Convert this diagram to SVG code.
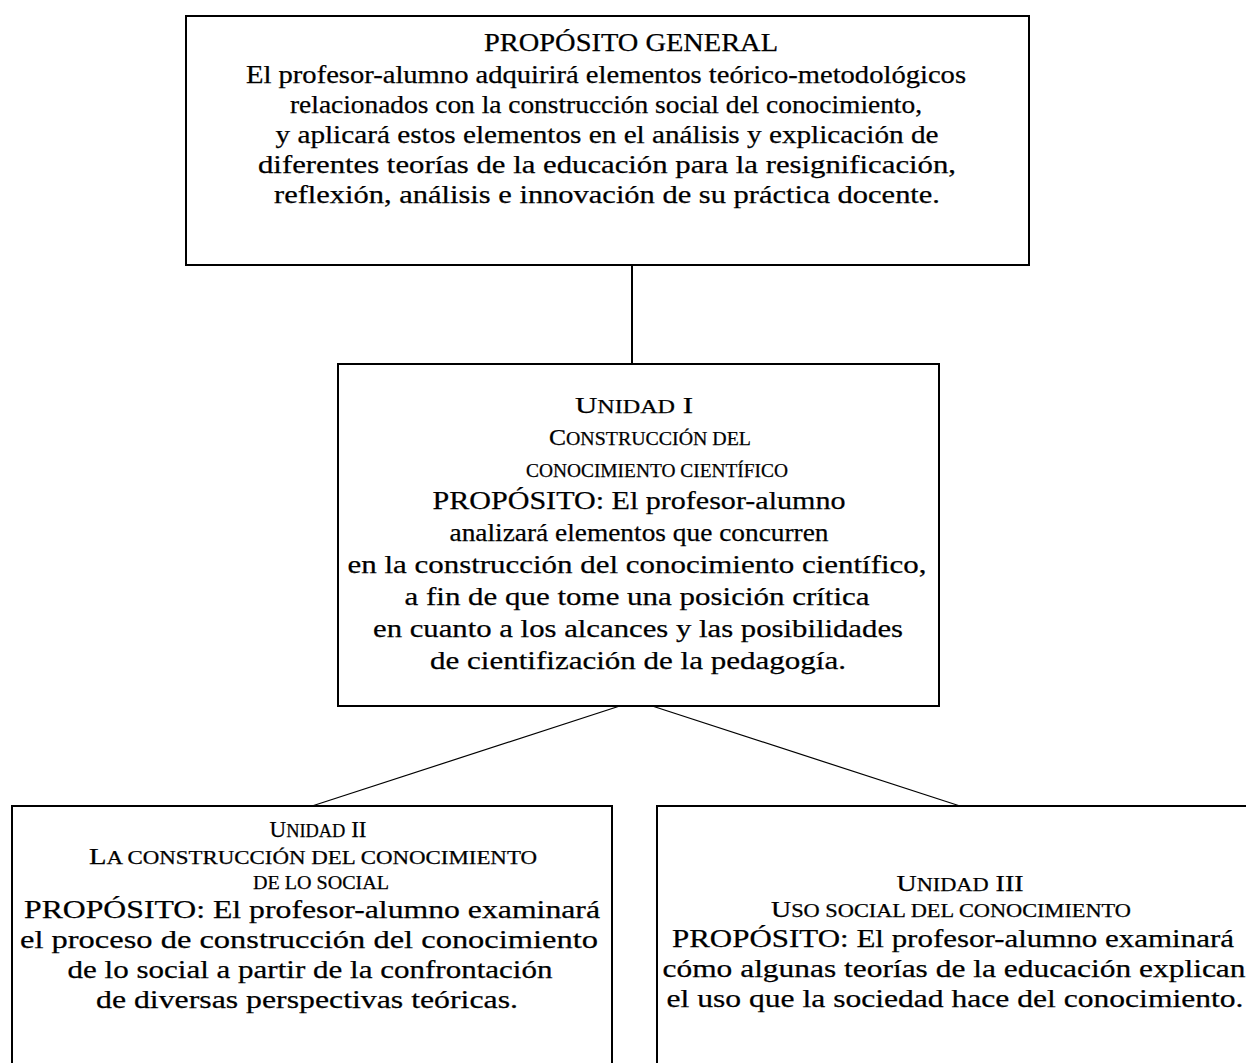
<svg xmlns="http://www.w3.org/2000/svg" width="1246" height="1063" viewBox="0 0 1246 1063">
  <style>
    .box { fill: #ffffff; stroke: #000000; stroke-width: 2; }
    .link { stroke: #000000; fill: none; }
    text { font-family: "Liberation Serif", "DejaVu Serif", serif; fill: #000000; stroke: #000000; stroke-width: 0.25; text-anchor: middle; }
    .t1 { font-size: 25px; }
    .t2 { font-size: 26px; }
    .t3 { font-size: 26px; }
    .cap { font-size: 24px; }
    .cap3 { font-size: 23px; }
    .sc { font-size: 0.78em; }
    .sc3 { font-size: 0.8em; }
  </style>
  <rect width="1246" height="1063" fill="#ffffff"/>

  <!-- connectors -->
  <g id="connectors">
    <line class="link" x1="632" y1="265" x2="632" y2="364" stroke-width="2"/>
    <line class="link" x1="629" y1="703" x2="312" y2="806" stroke-width="1.2"/>
    <line class="link" x1="643" y1="703" x2="960" y2="806" stroke-width="1.2"/>
  </g>

  <!-- general purpose -->
  <g id="proposito-general">
    <rect class="box" x="186" y="16" width="843" height="249"/>
    <g class="t1">
      <text x="631" y="51" textLength="294" lengthAdjust="spacingAndGlyphs">PROPÓSITO GENERAL</text>
      <text x="606" y="83" textLength="720" lengthAdjust="spacingAndGlyphs">El profesor-alumno adquirirá elementos teórico-metodológicos</text>
      <text x="606" y="113" textLength="632" lengthAdjust="spacingAndGlyphs">relacionados con la construcción social del conocimiento,</text>
      <text x="607" y="143" textLength="663" lengthAdjust="spacingAndGlyphs">y aplicará estos elementos en el análisis y explicación de</text>
      <text x="607" y="173" textLength="698" lengthAdjust="spacingAndGlyphs">diferentes teorías de la educación para la resignificación,</text>
      <text x="607" y="203" textLength="666" lengthAdjust="spacingAndGlyphs">reflexión, análisis e innovación de su práctica docente.</text>
    </g>
  </g>

  <!-- unit I -->
  <g id="unidad-1">
    <rect class="box" x="338" y="364" width="601" height="342"/>
    <g class="t2">
      <text class="cap" x="634" y="413" textLength="118" lengthAdjust="spacingAndGlyphs">U<tspan class="sc">NIDAD</tspan> I</text>
      <text class="cap" x="650" y="445" textLength="202" lengthAdjust="spacingAndGlyphs">C<tspan class="sc">ONSTRUCCIÓN DEL</tspan></text>
      <text class="cap" x="657" y="477" textLength="262" lengthAdjust="spacingAndGlyphs"><tspan class="sc">CONOCIMIENTO CIENTÍFICO</tspan></text>
      <text x="639" y="509" textLength="413" lengthAdjust="spacingAndGlyphs">PROPÓSITO: El profesor-alumno</text>
      <text x="639" y="541" textLength="379" lengthAdjust="spacingAndGlyphs">analizará elementos que concurren</text>
      <text x="637" y="573" textLength="579" lengthAdjust="spacingAndGlyphs">en la construcción del conocimiento científico,</text>
      <text x="637" y="605" textLength="465" lengthAdjust="spacingAndGlyphs">a fin de que tome una posición crítica</text>
      <text x="638" y="637" textLength="530" lengthAdjust="spacingAndGlyphs">en cuanto a los alcances y las posibilidades</text>
      <text x="638" y="669" textLength="416" lengthAdjust="spacingAndGlyphs">de cientifización de la pedagogía.</text>
    </g>
  </g>

  <!-- unit II -->
  <g id="unidad-2">
    <rect class="box" x="12" y="806" width="600" height="270"/>
    <g class="t3">
      <text class="cap3" x="318" y="837" textLength="97" lengthAdjust="spacingAndGlyphs">U<tspan class="sc3">NIDAD</tspan> II</text>
      <text class="cap3" x="313" y="864" textLength="448" lengthAdjust="spacingAndGlyphs">L<tspan class="sc3">A CONSTRUCCIÓN DEL CONOCIMIENTO</tspan></text>
      <text class="cap3" x="321" y="889" textLength="136" lengthAdjust="spacingAndGlyphs"><tspan class="sc3">DE LO SOCIAL</tspan></text>
      <text x="312" y="918" textLength="576" lengthAdjust="spacingAndGlyphs">PROPÓSITO: El profesor-alumno examinará</text>
      <text x="309" y="948" textLength="578" lengthAdjust="spacingAndGlyphs">el proceso de construcción del conocimiento</text>
      <text x="310" y="978" textLength="485" lengthAdjust="spacingAndGlyphs">de lo social a partir de la confrontación</text>
      <text x="307" y="1008" textLength="422" lengthAdjust="spacingAndGlyphs">de diversas perspectivas teóricas.</text>
    </g>
  </g>

  <!-- unit III -->
  <g id="unidad-3">
    <rect class="box" x="657" y="806" width="620" height="270"/>
    <g class="t3">
      <text class="cap3" x="960" y="891" textLength="127" lengthAdjust="spacingAndGlyphs">U<tspan class="sc3">NIDAD</tspan> III</text>
      <text class="cap3" x="951" y="917" textLength="360" lengthAdjust="spacingAndGlyphs">U<tspan class="sc3">SO SOCIAL DEL CONOCIMIENTO</tspan></text>
      <text x="953" y="947" textLength="562" lengthAdjust="spacingAndGlyphs">PROPÓSITO: El profesor-alumno examinará</text>
      <text x="954" y="977" textLength="583" lengthAdjust="spacingAndGlyphs">cómo algunas teorías de la educación explican</text>
      <text x="955" y="1007" textLength="577" lengthAdjust="spacingAndGlyphs">el uso que la sociedad hace del conocimiento.</text>
    </g>
  </g>
</svg>
